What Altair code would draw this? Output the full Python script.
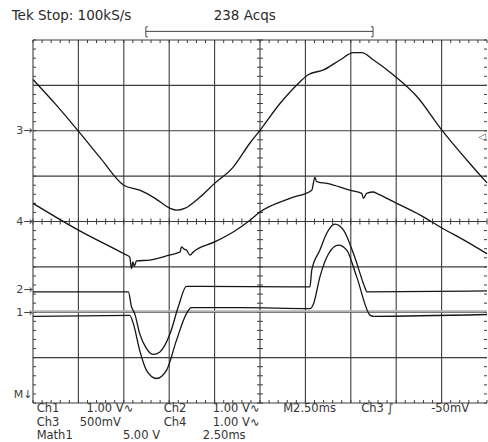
import altair as alt
import pandas as pd
import numpy as np

# ---------------- data (screen divisions: x 0..10, y -4..4) ----------------
ch3_x = [0.00, 0.50, 1.00, 1.50, 2.00, 2.35, 2.69, 3.02, 3.16, 3.34, 3.68, 4.00, 4.41, 4.78,
         5.00, 5.44, 5.81, 6.07, 6.40, 6.76, 7.06, 7.24, 7.50, 7.94, 8.46, 9.01, 9.56, 10.00]
ch3_y = [3.13, 2.58, 1.99, 1.38, 0.80, 0.69, 0.51, 0.29, 0.25, 0.29, 0.54, 0.84, 1.20, 1.73,
         2.01, 2.60, 3.01, 3.24, 3.34, 3.56, 3.72, 3.72, 3.56, 3.23, 2.75, 2.01, 1.35, 0.85]

ch4_x = [0.00, 1.00, 2.00, 2.13, 2.17, 2.20, 2.23, 2.28, 2.57, 3.00, 3.24, 3.27, 3.33, 3.38,
         3.46, 3.53, 4.00, 4.41, 4.78, 5.00, 5.66, 6.14, 6.21, 6.24, 6.28, 6.47, 6.98, 7.24,
         7.28, 7.35, 7.50, 7.57, 8.01, 8.53, 8.97, 9.56, 10.00]
ch4_y = [0.40, -0.19, -0.71, -0.78, -1.04, -0.89, -0.99, -0.87, -0.85, -0.74, -0.67, -0.56,
         -0.61, -0.63, -0.74, -0.67, -0.45, -0.23, 0.03, 0.21, 0.51, 0.69, 0.98, 0.89, 0.87,
         0.84, 0.69, 0.62, 0.51, 0.62, 0.65, 0.62, 0.40, 0.14, -0.12, -0.45, -0.71]

ch2_x = [0.00, 2.10, 2.17, 2.24, 2.35, 2.50, 2.65, 2.79, 3.02, 3.20, 3.38, 6.10, 6.14, 6.32,
         6.47, 6.65, 6.84, 7.06, 7.32, 7.35, 10.00]
ch2_y = [-1.55, -1.55, -1.88, -2.03, -2.47, -2.80, -2.93, -2.88, -2.47, -1.88, -1.43, -1.44,
         -1.07, -0.63, -0.26, -0.06, -0.19, -0.71, -1.48, -1.55, -1.53]

ch1_x = [0.00, 2.13, 2.21, 2.35, 2.50, 2.72, 2.94, 3.16, 3.38, 3.49, 4.56, 6.10, 6.18, 6.32,
         6.51, 6.73, 6.91, 7.13, 7.43, 7.50, 10.00]
ch1_y = [-2.09, -2.07, -2.25, -2.84, -3.28, -3.46, -3.28, -2.62, -2.03, -1.90, -1.90, -1.92,
         -1.81, -1.22, -0.71, -0.52, -0.63, -1.22, -2.07, -2.09, -2.05]

ref_level = -1.98          # grey ground reference line
marker_labels = ["3\u2192", "4\u2192", "2\u2192", "1\u2192", "M\u2193"]
marker_levels = [2.0, 0.0, -1.52, -2.02, -3.83]

header_texts = ["Tek Stop: 100kS/s", "238 Acqs"]
footer_row1 = ["Ch1", "1.00 V\u223f", "Ch2", "1.00 V\u223f", "M2.50ms", "Ch3 \u222b", "-50mV"]
footer_row2 = ["Ch3", "500mV", "Ch4", "1.00 V\u223f"]
footer_row3 = ["Math1", "5.00 V", "2.50ms"]

# ---------------- layout helpers (positions in divisions) ----------------
W, H = 454, 363
tick = 3.0 / 45.4

traces = []
for name, xs, ys in [("Ch3", ch3_x, ch3_y), ("Ch4", ch4_x, ch4_y),
                     ("Ch2", ch2_x, ch2_y), ("Ch1", ch1_x, ch1_y)]:
    for i, (a, b) in enumerate(zip(xs, ys)):
        traces.append({"series": name, "x": a, "y": b, "i": i})
traces = pd.DataFrame(traces)

grid = []
for gx in range(0, 10):
    grid.append({"x": gx, "x2": gx, "y": -4, "y2": 4})
for gy in range(-4, 5):
    grid.append({"x": 0, "x2": 10, "y": gy, "y2": gy})
grid = pd.DataFrame(grid)

ticks = []
for k in range(0, 51):
    t = k * 0.2
    ticks.append({"x": t, "x2": t, "y": -tick, "y2": tick})          # centre horizontal
    ticks.append({"x": t, "x2": t, "y": 4, "y2": 4 - tick})          # top border
    ticks.append({"x": t, "x2": t, "y": -4, "y2": -4 + tick})        # bottom border
for k in range(-20, 21):
    t = k * 0.2
    ticks.append({"x": 5 - tick, "x2": 5 + tick, "y": t, "y2": t})   # centre vertical
    ticks.append({"x": 0, "x2": tick, "y": t, "y2": t})              # left border
    ticks.append({"x": 10, "x2": 10 - tick, "y": t, "y2": t})        # right border
ticks = pd.DataFrame(ticks)

ref = pd.DataFrame({"x": [0], "x2": [10], "y": [ref_level], "y2": [ref_level]})

bracket = pd.DataFrame([
    {"x": 2.486, "x2": 7.49, "y": 4.19, "y2": 4.19},
    {"x": 2.486, "x2": 2.486, "y": 4.29, "y2": 4.07},
    {"x": 7.49, "x2": 7.49, "y": 4.29, "y2": 4.07},
    {"x": 2.486, "x2": 2.53, "y": 4.29, "y2": 4.29},
    {"x": 2.486, "x2": 2.53, "y": 4.07, "y2": 4.07},
    {"x": 7.445, "x2": 7.49, "y": 4.29, "y2": 4.29},
    {"x": 7.445, "x2": 7.49, "y": 4.07, "y2": 4.07},
])

markers = pd.DataFrame({"x": [-0.01] * len(marker_labels), "y": marker_levels, "t": marker_labels})
header = pd.DataFrame({"x": [-0.47, 3.98], "y": [4.53, 4.53], "t": header_texts})
footer = pd.DataFrame({
    "x": [0.08, 1.18, 2.88, 3.96, 5.51, 7.23, 8.77] + [0.08, 1.03, 2.88, 3.96] + [0.08, 1.98, 3.74],
    "y": [-4.13] * 7 + [-4.43] * 4 + [-4.72] * 3,
    "t": footer_row1 + footer_row2 + footer_row3,
})
trig = pd.DataFrame({"x": [9.89], "y": [1.87], "t": ["\u25c1"]})

xs = alt.Scale(domain=[0, 10], nice=False, zero=False)
ys = alt.Scale(domain=[-4, 4], nice=False, zero=False)


def seg(df, color, width):
    return alt.Chart(df).mark_rule(color=color, strokeWidth=width).encode(
        x=alt.X("x:Q", scale=xs, axis=None), x2="x2",
        y=alt.Y("y:Q", scale=ys, axis=None), y2="y2")


def txt(df, size, align="left", color="#2a2a2a"):
    return alt.Chart(df).mark_text(align=align, baseline="middle", font="DejaVu Sans",
                                   fontSize=size, color=color).encode(
        x=alt.X("x:Q", scale=xs, axis=None), y=alt.Y("y:Q", scale=ys, axis=None), text="t:N")


lines = alt.Chart(traces).mark_line(color="#151515", strokeWidth=1.3, interpolate="monotone").encode(
    x=alt.X("x:Q", scale=xs, axis=None), y=alt.Y("y:Q", scale=ys, axis=None),
    detail="series:N", order="i:Q")

chart = alt.layer(
    seg(grid, "#3c3c3c", 1.1),
    seg(ticks, "#3c3c3c", 1.0),
    seg(ref, "#b0b0b0", 2.0),
    seg(bracket, "#444444", 1.0),
    lines,
    txt(markers, 11, align="right", color="#444444"),
    txt(header, 13.5),
    txt(footer, 11.5, color="#333333"),
    txt(trig, 10, align="center", color="#666666"),
).properties(
    width=W, height=H,
    autosize=alt.AutoSizeParams(type="none"),
    padding={"left": 33, "top": 40, "right": 1, "bottom": 39},
    background="white",
).configure_view(stroke=None)

chart.save("out.html", embed_options={"renderer": "svg", "actions": False})
